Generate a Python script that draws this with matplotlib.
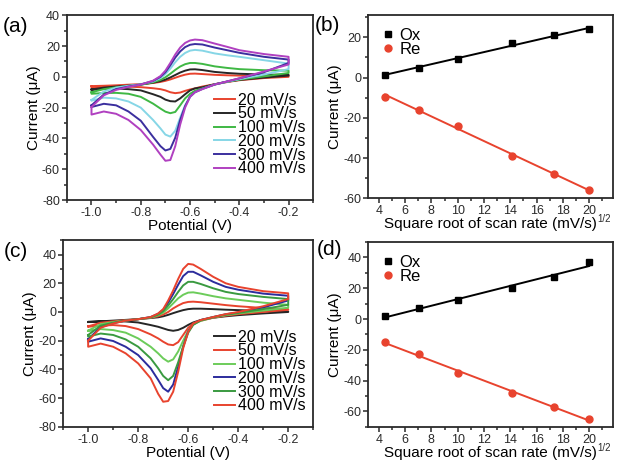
import numpy as np
import matplotlib
matplotlib.use('Agg')
import matplotlib.pyplot as plt
from matplotlib.ticker import MultipleLocator, FormatStrFormatter

plt.rcParams['font.family'] = ['Liberation Sans', 'DejaVu Sans']
plt.rcParams['axes.unicode_minus'] = False

# potential grid shared by every CV curve (V)
E = [-1.0, -0.95, -0.9, -0.85, -0.8, -0.75, -0.72, -0.70, -0.68, -0.66,
     -0.64, -0.62, -0.60, -0.58, -0.55, -0.5, -0.45, -0.4, -0.3, -0.2]

labels = ['20 mV/s', '50 mV/s', '100 mV/s', '200 mV/s', '300 mV/s', '400 mV/s']

# panel (a): forward (upper) and reverse (lower) branches, uA
a_upper = [
    [-6, -5.8, -5.5, -5.1, -4.7, -4, -3.3, -2.6, -1.7, -0.6, 0.5, 1.4, 2, 2.1, 1.8, 1.3, 1, 0.8, 0.7, 0.8],
    [-8.2, -7, -6.3, -5.7, -5, -3.8, -2.8, -1.8, -0.4, 1.2, 2.8, 4, 4.8, 4.9, 4.4, 3.2, 2.5, 2, 1.5, 1.3],
    [-10, -8, -6.8, -6, -5.2, -3.5, -2, -0.3, 2, 4.5, 6.7, 8.2, 9, 9, 8.4, 6.8, 5.8, 5, 4.3, 4],
    [-15, -9.5, -7, -5.8, -4.8, -3, -0.8, 1.8, 5.3, 9.5, 13, 15.5, 17, 17.5, 17, 15.2, 14, 13, 10.8, 8.6],
    [-18.5, -11.5, -8, -6.3, -5, -2.7, 0, 3, 7.5, 12.5, 16.5, 19.3, 20.8, 21.3, 21, 19, 17.3, 15.6, 13, 11.2],
    [-19.6, -12, -8.5, -6.5, -5, -2.5, 0.5, 4, 9, 14.5, 19, 22, 23.6, 24.2, 23.8, 21.6, 19.5, 17.3, 14.8, 13],
]
a_lower = [
    [-7, -6.5, -6.3, -6.4, -6.7, -7.4, -8, -8.8, -10, -10.6, -10.2, -9.1, -8.2, -7.5, -6.3, -4.8, -3.4, -2.2, -0.8, 0],
    [-8.5, -7.8, -7.6, -8, -8.8, -11.3, -13, -14.8, -15.8, -16, -14, -11.3, -8.8, -7.5, -6.8, -4.8, -3.2, -2, -0.5, 0.8],
    [-11, -10.5, -10.4, -11, -13, -17.4, -20.6, -22.6, -23.6, -22.8, -18.5, -14, -11, -9, -7.5, -5, -3.2, -1.8, 0.3, 2.5],
    [-15.5, -13.5, -14, -16, -20, -28, -33.5, -37.5, -38.8, -35, -26.5, -18.5, -13, -10, -7.8, -5, -3.2, -1.5, 1.5, 5],
    [-19.6, -17.5, -18.5, -22.5, -28.5, -39, -45, -47.8, -46.8, -39.5, -28, -19, -12.8, -10, -7.8, -5, -3, -1, 3, 9],
    [-24.5, -22.5, -24, -28, -34.5, -44, -50.5, -54.5, -54, -45, -31, -20, -13, -10, -8, -5, -3, -1, 3.5, 8],
]
a_colors = ['#e8432e', '#262626', '#3fb844', '#86d6e6', '#3b2f9e', '#b040c0']

# panel (c)
c_upper = [
    [-7, -6.5, -6, -5.5, -5, -4.2, -3.7, -3, -2, -0.8, 0.3, 1.3, 2, 2.3, 2.3, 2, 1.6, 1.3, 0.7, 0.3],
    [-10, -7.5, -6.5, -5.7, -5, -4, -3, -1.8, 0, 2.5, 4.5, 6.2, 7, 7.2, 6.8, 5.8, 4.8, 4, 2.8, 2],
    [-13, -8.5, -7, -6, -5, -3.9, -2.3, -0.5, 2.5, 6, 9.5, 12, 13.5, 13.7, 12.8, 11, 9.5, 8.5, 6.5, 5],
    [-19, -10.5, -7.8, -6, -5, -3.5, -1.3, 1.5, 6.5, 12.5, 19, 25, 28, 28, 25.5, 21, 17.5, 15.5, 12.8, 11.3],
    [-16, -9.5, -7.5, -6, -5, -3.7, -1.8, 0.5, 4.5, 9, 14, 18.5, 21, 21, 19.5, 16.5, 14, 12.5, 10.5, 9],
    [-20, -11, -8, -6, -5, -3.5, -1, 2, 8, 15, 23, 30, 33.5, 33, 30, 24.5, 20, 17.5, 14.5, 13],
]
c_lower = [
    [-6.8, -6.6, -6.4, -6.6, -7.3, -9.1, -10.3, -11.4, -12.5, -13.1, -12.5, -11, -9, -7.3, -5.6, -4, -3, -2.2, -1, 0],
    [-10.3, -9.5, -9.1, -9.8, -11.9, -15.6, -18.4, -20.7, -22.6, -23.1, -21, -16, -11, -8, -6.1, -4, -2.6, -1.5, 0, 1.5],
    [-13.3, -11.9, -12.6, -14.4, -18.4, -24.2, -28.8, -32.3, -34.6, -33, -27.5, -20, -13, -8.7, -6.2, -3.8, -2.2, -1, 1, 3],
    [-20.7, -18.4, -20.2, -24.2, -30, -39.2, -47.3, -53, -55.5, -50.5, -38, -24, -13.5, -8.5, -5.6, -3.5, -1.6, -0.3, 3.2, 8],
    [-17.2, -15, -16, -19.1, -24.2, -32.3, -39.2, -44.5, -47.5, -44.5, -35, -24, -14.5, -9, -5.8, -3.6, -1.8, -0.6, 2, 5],
    [-24.2, -22, -24.2, -28.8, -35.8, -46.2, -57, -62.5, -62, -55.5, -41.6, -25.3, -13.8, -8, -5.6, -3.5, -1.5, 0, 4, 9],
]
c_colors = ['#262626', '#e8432e', '#6ccc5a', '#2c2c9c', '#3a9a40', '#e8432e']

# peak currents vs sqrt(scan rate)
sqrt_rate = [4.47, 7.07, 10.0, 14.14, 17.32, 20.0]
b_ox = [1.5, 5, 9, 17, 21, 24]
b_re = [-9.5, -16, -24, -39, -48, -56]
d_ox = [2, 7, 12.5, 20, 27, 37]
d_re = [-15, -23, -35, -48, -57, -65]

RED = '#e8432e'


def style_axes(ax):
    for s in ax.spines.values():
        s.set_linewidth(1.3)
        s.set_color('#2a2a2a')
    ax.tick_params(which='both', direction='out', top=False, right=False,
                   labelsize=9, colors='#2a2a2a', width=1.1, pad=1.5)
    ax.tick_params(which='major', length=3.5)
    ax.tick_params(which='minor', length=2)


def cv_panel(ax, upper, lower, colors, ylim, legend_y):
    for up, lo, col, lab in zip(upper, lower, colors, labels):
        xs = E + E[::-1] + [E[0]]
        ys = up + lo[::-1] + [up[0]]
        ax.plot(xs, ys, color=col, lw=1.4, label=lab)
    ax.set_xlim(-1.1, -0.1)
    ax.set_ylim(*ylim)
    ax.xaxis.set_major_locator(MultipleLocator(0.2))
    ax.xaxis.set_minor_locator(MultipleLocator(0.1))
    ax.yaxis.set_major_locator(MultipleLocator(20))
    ax.yaxis.set_minor_locator(MultipleLocator(10))
    ax.xaxis.set_major_formatter(FormatStrFormatter('%.1f'))
    ax.set_xlabel('Potential (V)', fontsize=11, labelpad=0)
    ax.set_ylabel('Current (μA)', fontsize=11, labelpad=1)
    style_axes(ax)
    ax.legend(loc='lower right', bbox_to_anchor=(1.0, legend_y), frameon=False,
              fontsize=11.5, handlelength=1.3, handletextpad=0.15,
              labelspacing=-0.08, borderaxespad=0.1)


def fit_panel(ax, ox, re, ylim):
    xs = np.array(sqrt_rate)
    for vals, col, mk, lab in [(ox, 'black', 's', 'Ox'), (re, RED, 'o', 'Re')]:
        k, b = np.polyfit(xs, vals, 1)
        ax.plot(xs[[0, -1]], k * xs[[0, -1]] + b, color=col, lw=1.4)
        ax.plot(xs, vals, mk, color=col, ms=5, ls='none', label=lab)
    ax.set_xlim(3.2, 21.8)
    ax.set_ylim(*ylim)
    ax.xaxis.set_major_locator(MultipleLocator(2))
    ax.xaxis.set_minor_locator(MultipleLocator(1))
    ax.yaxis.set_major_locator(MultipleLocator(20))
    ax.yaxis.set_minor_locator(MultipleLocator(10))
    ax.set_xlabel('Square root of scan rate (mV/s)', fontsize=11, labelpad=0)
    # small superscript placed just right of the label's top corner
    ax.annotate('1/2', xy=(1.0, 0.85), xycoords=ax.xaxis.label, fontsize=7,
                ha='left', va='center', color='#2a2a2a')
    ax.set_ylabel('Current (μA)', fontsize=11, labelpad=1)
    style_axes(ax)
    ax.legend(loc='upper left', bbox_to_anchor=(0.05, 0.95), frameon=False,
              fontsize=12, handlelength=0.5, handletextpad=0.45,
              labelspacing=-0.05, borderaxespad=0, borderpad=0.2)


fig = plt.figure(figsize=(6.19, 4.61), dpi=100)
ax_a = fig.add_axes([0.108, 0.566, 0.398, 0.401])
ax_b = fig.add_axes([0.595, 0.570, 0.395, 0.397])
ax_c = fig.add_axes([0.102, 0.074, 0.404, 0.405])
ax_d = fig.add_axes([0.595, 0.074, 0.395, 0.401])

cv_panel(ax_a, a_upper, a_lower, a_colors, (-80, 40), 0.085)
cv_panel(ax_c, c_upper, c_lower, c_colors, (-80, 50), 0.03)
fit_panel(ax_b, b_ox, b_re, (-60, 31))
fit_panel(ax_d, d_ox, d_re, (-70, 50))

for txt, x, y in [('(a)', 0.004, 0.943), ('(b)', 0.508, 0.945),
                  ('(c)', 0.006, 0.455), ('(d)', 0.512, 0.458)]:
    fig.text(x, y, txt, fontsize=15, va='center', ha='left')

fig.savefig('out.png', dpi=100)
